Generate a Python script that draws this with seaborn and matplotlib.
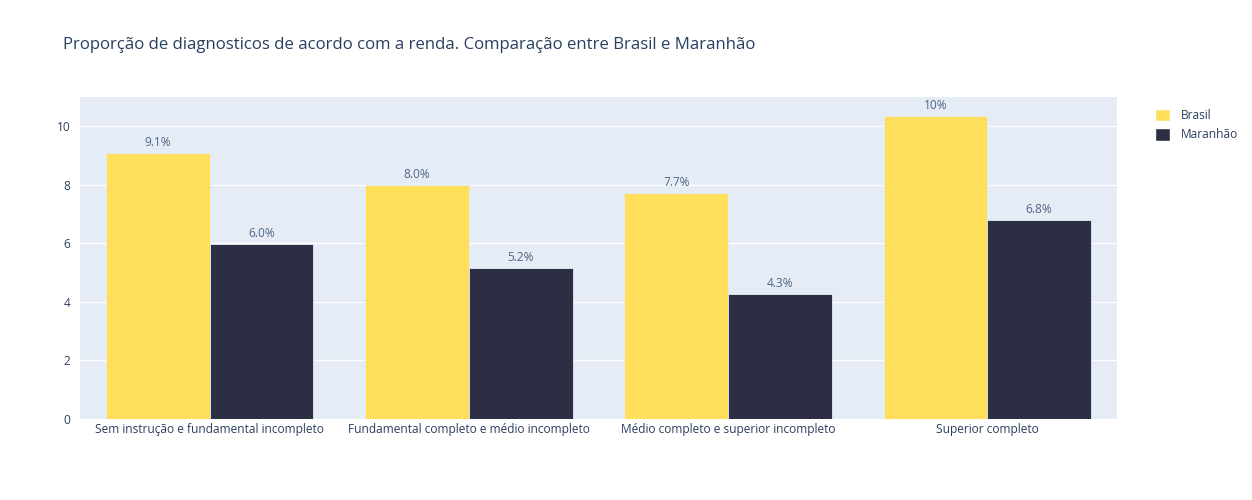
import matplotlib
matplotlib.use("Agg")
import matplotlib.pyplot as plt
from matplotlib.patches import Patch
import seaborn as sns
import pandas as pd

categories = ["Sem instrução e fundamental incompleto",
              "Fundamental completo e médio incompleto",
              "Médio completo e superior incompleto",
              "Superior completo"]
brasil = [9.08, 7.99, 7.71, 10.34]
maranhao = [5.97, 5.15, 4.27, 6.79]
brasil_labels = ["9.1%", "8.0%", "7.7%", "10%"]
maranhao_labels = ["6.0%", "5.2%", "4.3%", "6.8%"]
series = ["Brasil", "Maranhão"]
colors = {"Brasil": "#FFDE59", "Maranhão": "#2C2E43"}

df = pd.DataFrame({
    "cat": categories * 2,
    "val": brasil + maranhao,
    "serie": [series[0]] * 4 + [series[1]] * 4,
})

sns.set_theme(style="darkgrid")
plt.rcParams["font.family"] = ["Open Sans", "DejaVu Sans"]
text_color = "#2a3f5f"

fig = plt.figure(figsize=(12.52, 5), dpi=100)
ax = fig.add_axes([80 / 1252, 1 - 419 / 500, (1117 - 80) / 1252, (419 - 97) / 500])
ax.set_facecolor("#E5ECF6")

sns.barplot(data=df, x="cat", y="val", hue="serie", palette=colors, ax=ax,
            width=0.8, gap=0, edgecolor="#E5ECF6", linewidth=0.6, legend=False,
            errorbar=None, saturation=1)

for cont, labs in zip(ax.containers, [brasil_labels, maranhao_labels]):
    ax.bar_label(cont, labels=labs, padding=3, fontsize=8.6, color="#506784")

ax.set_xlim(-0.5, 3.5)
ax.set_ylim(0, 10.99)
ax.set_yticks([0, 2, 4, 6, 8, 10])
ax.grid(axis="y", color="white", linewidth=1)
ax.grid(axis="x", visible=False)
ax.set_xlabel("")
ax.set_ylabel("")
ax.tick_params(axis="both", length=0, labelsize=8.6, colors=text_color)
ax.tick_params(axis="y", pad=7)
ax.tick_params(axis="x", pad=3)
for s in ax.spines.values():
    s.set_visible(False)

fig.text(63 / 1252, 1 - 45 / 500, "Proporção de diagnosticos de acordo com a renda. Comparação entre Brasil e Maranhão",
         fontsize=12.1, color=text_color, va="center", ha="left")

handles = [Patch(facecolor=colors[s], edgecolor="white", label=s) for s in series]
fig.legend(handles=handles, loc="upper left", bbox_to_anchor=(1150 / 1252, 1 - 104 / 500),
           frameon=False, fontsize=8.6, labelcolor=text_color, handlelength=1.25,
           handleheight=1.25, handletextpad=0.95, labelspacing=0.5, borderaxespad=0)

fig.savefig("out.png", dpi=100, facecolor="white")
